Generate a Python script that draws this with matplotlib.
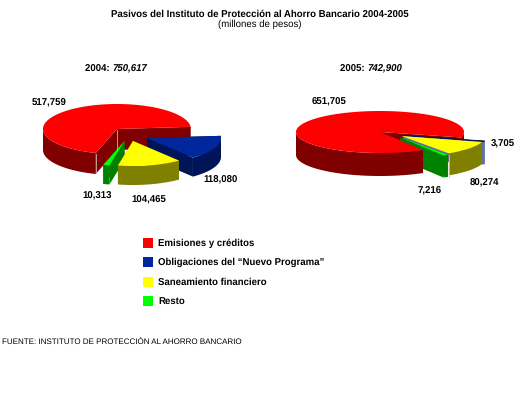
#! /usr/bin/python

"""
Pasivos del IPAB 2004-2005, two exploded 3D looking pies drawn by hand
"""

import numpy as np
import matplotlib
matplotlib.use('Agg')
import matplotlib.pyplot as plt
from matplotlib.patches import Polygon, Rectangle

plt.rcParams['font.family'] = ['Liberation Sans', 'DejaVu Sans']
plt.rcParams['text.hinting'] = 'no_hinting'

categories = ['Emisiones y créditos', 'Obligaciones del “Nuevo Programa”',
              'Saneamiento financiero', 'Resto']
values_2004 = [517759, 118080, 104465, 10313]
values_2005 = [651705, 3705, 80274, 7216]
total_2004 = '750,617'
total_2005 = '742,900'

top_colors = ['#ff0000', '#00289c', '#ffff00', '#00ff00']
side_colors = ['#800000', '#001458', '#808000', '#008000']


def draw_walls(ax, s):
    x0, y0 = s['apex']
    for i in (0, -1):
        wall = [(x0, y0), (s['xs'][i], s['ys'][i]), (s['xs'][i], s['ys'][i]+s['depth']), (x0, y0+s['depth'])]
        ax.add_patch(Polygon(wall, fc=s['side'], ec='none'))


def draw_rim(ax, s):
    # outer rim, only the part that faces the front
    xs, ys, depth = s['xs'], s['ys'], s['depth']
    front = np.sin(s['ang']) <= 0.02
    start = None
    for i in range(len(xs)+1):
        on = i < len(xs) and front[i]
        if on and start is None:
            start = i
        if not on and start is not None:
            px, py = xs[start:i], ys[start:i]
            rim = list(zip(px, py)) + list(zip(px[::-1], py[::-1]+depth))
            ax.add_patch(Polygon(rim, fc=s['side'], ec='none'))
            start = None


def draw_top(ax, s):
    pts = [s['apex']] + list(zip(s['xs'], s['ys']))
    ax.add_patch(Polygon(pts, fc=s['top'], ec=s.get('edge', 'none'), lw=0.5))


def make_slices(values, start, apexes, rx, ry, depths):
    # sweep order around the pie: red, green, yellow, blue
    total = float(sum(values))
    a = start
    out = {}
    for k in [0, 3, 2, 1]:
        sweep = 360*values[k]/total
        ang = np.radians(np.linspace(a, a+sweep, 200))
        out[k] = {'apex': apexes[k], 'ang': ang, 'depth': depths[k],
                  'xs': apexes[k][0] + rx*np.cos(ang),
                  'ys': apexes[k][1] - ry*np.sin(ang),
                  'top': top_colors[k], 'side': side_colors[k]}
        a += sweep
    return out


def draw_solid(ax, s):
    draw_walls(ax, s)
    draw_rim(ax, s)
    draw_top(ax, s)


fig = plt.figure(figsize=(5.2, 4.0), dpi=100)
ax = fig.add_axes([0, 0, 1, 1])
ax.set_xlim(0, 520)
ax.set_ylim(400, 0)
ax.axis('off')

# 2004, the apex of every exploded slice is placed by eye
p04 = make_slices(values_2004, 5, [(117, 129), (147, 138), (133, 141), (124.5, 141)],
                  74, 25, [21, 19, 19, 19])
draw_solid(ax, p04[0])
ax.plot([117, 117], [130, 150], color='#d8b0b0', lw=0.6)
ax.plot([95.5, 95.5], [154, 173], color='#d8b0b0', lw=0.6)
draw_solid(ax, p04[1])
draw_solid(ax, p04[3])
draw_solid(ax, p04[2])

# 2005, red sits over the green wall but under the green top
p05 = make_slices(values_2005, -15, [(380, 132), (403.5, 135.5), (401.5, 136), (400.5, 137.5)],
                  84, 21, [23, 23, 22, 22])
p05[1]['side'] = '#6070a0'
p05[1]['top'] = '#001458'
p05[1]['edge'] = '#001458'
draw_walls(ax, p05[0])
draw_walls(ax, p05[1])
draw_rim(ax, p05[1])
draw_walls(ax, p05[3])
draw_rim(ax, p05[3])
draw_rim(ax, p05[0])
draw_top(ax, p05[0])
draw_top(ax, p05[3])
draw_rim(ax, p05[2])
draw_top(ax, p05[1])
draw_top(ax, p05[2])
ax.plot([449, 449], [155, 177], color='#c8c890', lw=0.6)

bold = dict(fontsize=6.9, fontweight='bold', ha='center', va='center', color='black')
ax.text(260, 14, 'Pasivos del Instituto de Protección al Ahorro Bancario 2004-2005', **bold)
ax.text(260, 24, '(millones de pesos)', fontsize=6.9, ha='center', va='center')

ax.text(112, 69, '2004: ', fontsize=6.9, fontweight='bold', ha='right', va='center')
ax.text(112, 69, total_2004, fontsize=6.9, fontweight='bold', style='italic', ha='left', va='center')
ax.text(367, 69, '2005: ', fontsize=6.9, fontweight='bold', ha='right', va='center')
ax.text(367, 69, total_2005, fontsize=6.9, fontweight='bold', style='italic', ha='left', va='center')

labels_2004 = [f'{v:,}' for v in values_2004]
labels_2005 = [f'{v:,}' for v in values_2005]
for lab, pos in zip(labels_2004, [(49, 103), (221, 180), (149, 200), (97, 196)]):
    ax.text(pos[0], pos[1], lab, **bold)
for lab, pos in zip(labels_2005, [(329, 102), (503, 144), (484, 183), (430, 191)]):
    ax.text(pos[0], pos[1], lab, **bold)

for cat, col, y in zip(categories, top_colors, [243, 262, 282, 301]):
    ax.add_patch(Rectangle((143, y-5), 10, 10, fc=col, ec='none'))
    ax.text(158, y, cat, fontsize=6.9, fontweight='bold', ha='left', va='center')

ax.text(2, 343, 'FUENTE: INSTITUTO DE PROTECCIÓN AL AHORRO BANCARIO', fontsize=5.8,
        ha='left', va='center')

fig.savefig('out.png', dpi=100)
